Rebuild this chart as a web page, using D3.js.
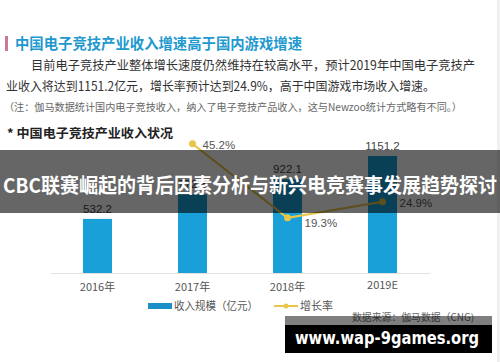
<!DOCTYPE html>
<html>
<head>
<meta charset="utf-8">
<script src="https://cdn.jsdelivr.net/npm/d3@7"></script>
<style>
  body { margin: 0; background: #fff; }
  svg { display: block; font-family: "Noto Sans CJK SC", "Liberation Sans", sans-serif; }
</style>
</head>
<body>
<svg id="chart" width="500" height="362"></svg>
<script>
// chart data
const years = ['2016年', '2017年', '2018年', '2019E']
const revenue = [532.2, 772.8, 922.1, 1151.2]
const growth = [null, 45.2, 19.3, 24.9]

const titleText = '中国电子竞技产业收入增速高于国内游戏增速'
const bodyLines = [
  '目前电子竞技产业整体增长速度仍然维持在较高水平，预计2019年中国电子竞技产',
  '业收入将达到1151.2亿元，增长率预计达到24.9%，高于中国游戏市场收入增速。'
]
const noteText = '（注：伽马数据统计国内电子竞技收入，纳入了电子竞技产品收入，这与Newzoo统计方式略有不同。）'
const chartTitle = '* 中国电子竞技产业收入状况'
const legendLabels = ['收入规模（亿元）', '增长率']
const sourceText = '数据来源：伽马数据（CNG)'
const bannerText = 'CBC联赛崛起的背后因素分析与新兴电竞赛事发展趋势探讨'
const siteText = 'www.wap-9games.org'

const svg = d3.select('#chart')
const base = 273
const blue = '#1aa0d8'
const gold = '#e9c64a'

// header texts
svg.append('rect').attr('x', 5).attr('y', 36).attr('width', 3).attr('height', 15).attr('fill', '#c97a9a')
svg.append('text').text(titleText)
  .attr('x', 15).attr('y', 48.5)
  .attr('font-size', 14.5).attr('font-weight', 'bold').attr('fill', '#2199cf')
  .attr('textLength', 287).attr('lengthAdjust', 'spacingAndGlyphs')

svg.selectAll('.body').data(bodyLines).join('text')
  .attr('class', 'body')
  .text(d => d)
  .attr('x', (d, i) => i === 0 ? 31 : 6)
  .attr('y', (d, i) => 69.5 + i * 21)
  .attr('font-size', 12.5).attr('fill', '#333')
  .attr('textLength', (d, i) => i === 0 ? 444 : 429)
  .attr('lengthAdjust', 'spacingAndGlyphs')

svg.append('text').text(noteText)
  .attr('x', 4).attr('y', 110.5)
  .attr('font-size', 10).attr('fill', '#666')
  .attr('textLength', 458).attr('lengthAdjust', 'spacingAndGlyphs')

svg.append('text').text(chartTitle)
  .attr('x', 7).attr('y', 137.5)
  .attr('font-size', 12.5).attr('font-weight', 'bold').attr('fill', '#222')
  .attr('textLength', 166).attr('lengthAdjust', 'spacingAndGlyphs')

// scales
const x = d3.scaleBand().domain(years).range([50, 430]).paddingInner(0.695).paddingOuter(0.3475)
const y = d3.scaleLinear().domain([0, 1200]).range([base, base - 122])
const yRate = d3.scaleLinear().domain([0, 50]).range([base, base - 142.85])
const cx = d => x(d) + x.bandwidth() / 2

// bars
svg.selectAll('.bar').data(years).join('rect')
  .attr('class', 'bar')
  .attr('x', d => x(d))
  .attr('y', (d, i) => y(revenue[i]))
  .attr('width', x.bandwidth())
  .attr('height', (d, i) => base - y(revenue[i]))
  .attr('fill', blue)

svg.selectAll('.barLabel').data(years).join('text')
  .attr('class', 'barLabel')
  .text((d, i) => revenue[i].toFixed(1))
  .attr('x', cx)
  .attr('y', (d, i) => y(revenue[i]) - 6)
  .attr('text-anchor', 'middle')
  .attr('font-family', 'Liberation Sans, Arial, sans-serif')
  .attr('font-size', 11.5).attr('fill', '#444')

// x axis
const axis = svg.append('g').attr('class', 'xaxis')
  .attr('transform', `translate(0,${base})`)
  .call(d3.axisBottom(x).tickSize(0).tickPadding(10))
axis.select('.domain').attr('stroke', '#e2e2e2')
axis.selectAll('.tick text')
  .attr('font-family', '"Noto Sans CJK SC", sans-serif')
  .attr('font-size', 11).attr('fill', '#555')
  .attr('dy', d => d === '2019E' ? '0.55em' : '0.71em')

// growth line
const pts = years.map((d, i) => ({ year: d, v: growth[i] })).filter(p => p.v !== null)
const line = d3.line().x(p => cx(p.year)).y(p => yRate(p.v))
svg.append('path').datum(pts)
  .attr('d', line)
  .attr('fill', 'none').attr('stroke', gold).attr('stroke-width', 2)
svg.selectAll('.dot').data(pts).join('circle')
  .attr('class', 'dot')
  .attr('cx', p => cx(p.year)).attr('cy', p => yRate(p.v)).attr('r', 3.5)
  .attr('fill', gold)
svg.selectAll('.rateLabel').data(pts).join('text')
  .attr('class', 'rateLabel')
  .text(p => p.v.toFixed(1) + '%')
  .attr('x', (p, i) => cx(p.year) + (i === 0 ? 10 : 17))
  .attr('y', (p, i) => yRate(p.v) + (i === 1 ? 9 : 5))
  .attr('font-family', 'Liberation Sans, Arial, sans-serif')
  .attr('font-size', 11.5).attr('fill', '#555')

// legend
const legend = svg.append('g').attr('transform', 'translate(0,306)')
legend.append('rect').attr('x', 148).attr('y', -3).attr('width', 24).attr('height', 6).attr('fill', '#1c8fc8')
legend.append('text').text(legendLabels[0])
  .attr('x', 174).attr('y', 4).attr('font-size', 11).attr('fill', '#555')
  .attr('textLength', 84).attr('lengthAdjust', 'spacingAndGlyphs')
legend.append('line').attr('x1', 274).attr('x2', 298).attr('y1', 0).attr('y2', 0)
  .attr('stroke', gold).attr('stroke-width', 2)
legend.append('circle').attr('cx', 286).attr('cy', 0).attr('r', 2.5).attr('fill', gold)
legend.append('text').text(legendLabels[1])
  .attr('x', 300).attr('y', 4).attr('font-size', 11).attr('fill', '#555')
  .attr('textLength', 33).attr('lengthAdjust', 'spacingAndGlyphs')

svg.append('text').text(sourceText)
  .attr('x', 352).attr('y', 321)
  .attr('font-size', 10).attr('fill', '#666')
  .attr('textLength', 122).attr('lengthAdjust', 'spacingAndGlyphs')

// right edge
svg.append('rect').attr('x', 497).attr('y', 0).attr('width', 3).attr('height', 362).attr('fill', '#f0f0f0')

// banner overlay
svg.append('rect').attr('x', 0).attr('y', 150).attr('width', 500).attr('height', 63)
  .attr('fill', 'rgba(0,0,0,0.6)')
svg.append('text').text(bannerText)
  .attr('x', 3).attr('y', 192.5)
  .attr('font-size', 20).attr('font-weight', 'bold').attr('fill', '#fff')
  .attr('textLength', 494).attr('lengthAdjust', 'spacingAndGlyphs')

// site watermark
svg.append('rect').attr('x', 285).attr('y', 316).attr('width', 207).attr('height', 9)
  .attr('fill', 'rgba(0,0,0,0.5)')
svg.append('rect').attr('x', 285).attr('y', 325).attr('width', 207).attr('height', 28)
  .attr('fill', '#000')
svg.append('text').text(siteText)
  .attr('x', 295).attr('y', 344)
  .attr('font-family', 'DejaVu Sans, sans-serif')
  .attr('font-size', 17).attr('font-weight', 'bold').attr('fill', '#fff')
  .attr('textLength', 184).attr('lengthAdjust', 'spacingAndGlyphs')
</script>
</body>
</html>
